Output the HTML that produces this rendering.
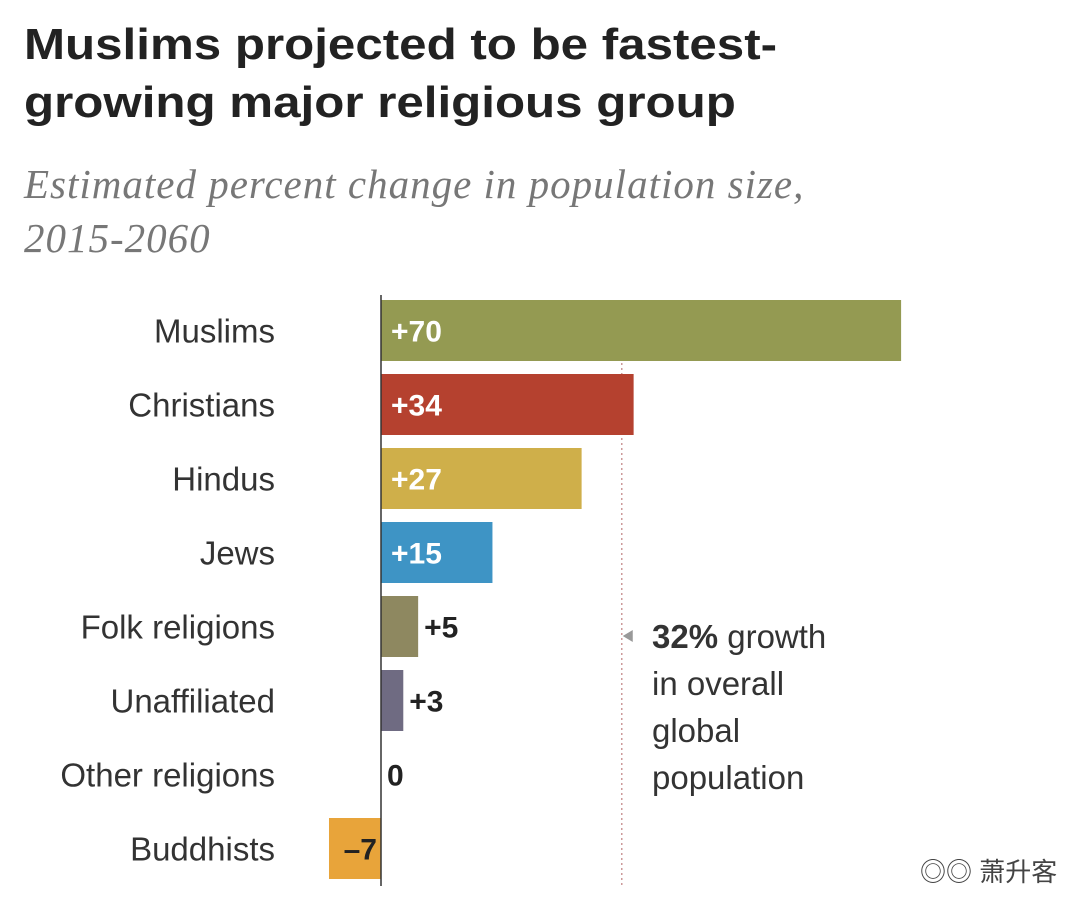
<!DOCTYPE html>
<html><head><meta charset="utf-8"><style>
body{margin:0;background:#fff;}
#wrap{position:relative;width:1080px;height:919px;overflow:hidden;background:#fff;font-family:"Liberation Sans",sans-serif;}
.t{position:absolute;left:24px;font-weight:bold;font-size:44px;color:#222;transform-origin:0 0;transform:scaleX(1.12);white-space:nowrap;}
.s{position:absolute;left:24px;font-family:"Liberation Serif",serif;font-style:italic;font-size:41px;color:#777;letter-spacing:1px;white-space:nowrap;}
</style></head><body>
<div id="wrap">
<div class="t" style="top:20px">Muslims projected to be fastest-</div>
<div class="t" style="top:78px">growing major religious group</div>
<div class="s" style="top:160px">Estimated percent change in population size,</div>
<div class="s" style="top:214px">2015-2060</div>
<svg id="svg" width="1080" height="919" style="position:absolute;left:0;top:0"></svg>
<div style="position:absolute;left:920px;top:852px;font-size:26px;color:#444;font-family:'Liberation Sans','Noto Sans CJK SC',sans-serif">◎◎ 萧升客</div>
</div>
<script>
const categories=["Muslims","Christians","Hindus","Jews","Folk religions","Unaffiliated","Other religions","Buddhists"];
const values=[70,34,27,15,5,3,0,-7];
const labels=["+70","+34","+27","+15","+5","+3","0","\u20137"];
const colors=["#949a52","#b5412f","#cfaf4a","#3e94c5","#8e8860","#6f6b82","#999","#e8a43a"];
const globalGrowth=32;
const NS="http://www.w3.org/2000/svg";
const svg=document.getElementById("svg");
const x0=381,pxPer=7.43,top0=300,step=74,bh=61;
const xs=v=>x0+v*pxPer;
function mk(t,a){const e=document.createElementNS(NS,t);for(const k in a)e.setAttribute(k,a[k]);svg.appendChild(e);return e;}
const dl=mk("line",{x1:xs(globalGrowth)+3,x2:xs(globalGrowth)+3,y1:303,y2:886,stroke:"#c99",["stroke-width"]:1.5,["stroke-dasharray"]:"2,3"});


categories.forEach((c,i)=>{
 const y=top0+i*step,v=values[i];
 const lab=mk("text",{x:275,y:y+bh/2+12,"text-anchor":"end","font-size":33,fill:"#333"});
 lab.textContent=c;
 
 
 if(v!==0){
  const r=mk("rect",{x:Math.min(xs(0),xs(v)),y:y,width:Math.abs(xs(v)-xs(0)),height:bh,fill:colors[i]});
  
  
 }
 const inside=Math.abs(v)>=10||v<0;
 let tx,anchor="start",fill="#222";
 if(v<0){tx=xs(0)-4;anchor="end";}
 else if(inside){tx=xs(0)+10;fill="#fff";}
 else tx=xs(v)+6;
 const vt=mk("text",{x:tx,y:y+bh/2+11,"text-anchor":anchor,"font-size":30,"font-weight":"bold",fill:fill});
 vt.textContent=labels[i];
 
 
});
const ax=mk("line",{x1:x0,x2:x0,y1:295,y2:886,stroke:"#333",["stroke-width"]:1.5});


const ann=[["32%"," growth"],["in overall"],["global"],["population"]];
const tri=mk("polygon",{points:`${xs(globalGrowth)+4},636 ${xs(globalGrowth)+14},630 ${xs(globalGrowth)+14},642`,fill:"#999"});


ann.forEach((l,i)=>{
 const t=mk("text",{x:652,y:648+i*47,"font-size":33,fill:"#333"});
 
 
 if(l.length>1){const b=document.createElementNS(NS,"tspan");b.setAttribute("font-weight","bold");b.textContent=l[0];t.appendChild(b);t.appendChild(document.createTextNode(l[1]));}
 else t.textContent=l[0];
});
</script>
</body></html>
